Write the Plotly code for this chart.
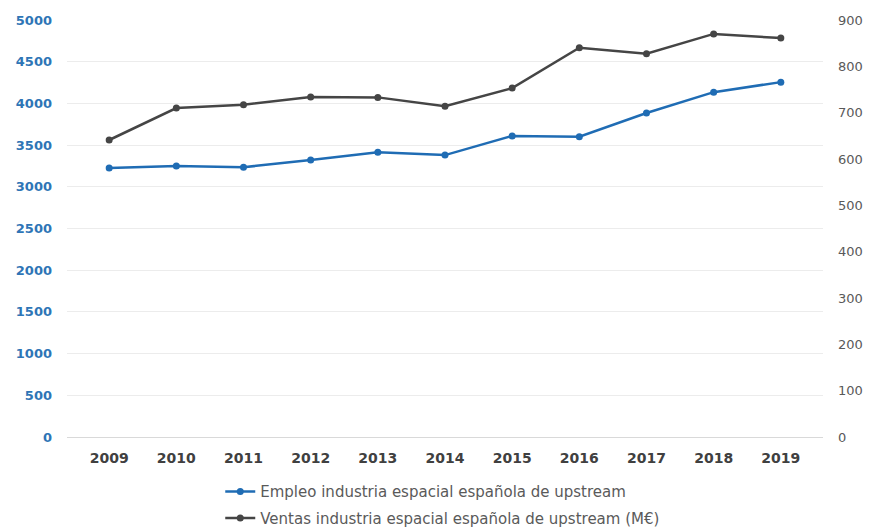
import plotly.graph_objects as go

years = ["2009", "2010", "2011", "2012", "2013", "2014", "2015", "2016", "2017", "2018", "2019"]
empleo = [3225, 3250, 3235, 3320, 3415, 3380, 3610, 3600, 3885, 4135, 4255]
ventas = [641, 710, 717, 734, 733, 714, 753, 840, 827, 870, 861]

left_ticks = list(range(0, 5001, 500))
right_ticks = list(range(0, 901, 100))

BLUE = "#1f6cb4"
DARK = "#454545"
FONT = "DejaVu Sans, Arial, sans-serif"

fig = go.Figure()
fig.add_trace(go.Scatter(
    x=years, y=empleo, mode="lines+markers",
    name="Empleo industria espacial española de upstream",
    line=dict(color=BLUE, width=2.5), marker=dict(size=7, color=BLUE),
    legendgroup="a", yaxis="y",
))
fig.add_trace(go.Scatter(
    x=years, y=ventas, mode="lines+markers",
    name="Ventas industria espacial española de upstream (M€)",
    line=dict(color=DARK, width=2.5), marker=dict(size=7, color=DARK),
    legendgroup="b", yaxis="y2",
))

fig.update_layout(
    width=881, height=528,
    margin=dict(l=67, r=58, t=20, b=91, autoexpand=False),
    paper_bgcolor="white", plot_bgcolor="white",
    font=dict(family=FONT),
    showlegend=True,
    legend=dict(
        orientation="v", xref="container", yref="container",
        x=0.25, xanchor="left", y=0.10, yanchor="top",
        font=dict(size=15, color="#5a5a5a", family=FONT), tracegroupgap=4,
        bgcolor="rgba(0,0,0,0)",
    ),
    xaxis=dict(
        type="category", showgrid=False, showline=True,
        linecolor="#d9d9d9", linewidth=1, ticks="", tickangle=0,
        tickfont=dict(size=14, color="#404040", family=FONT, weight="bold"),
        ticklabelstandoff=8,
    ),
    yaxis=dict(
        range=[0, 5000], tickvals=left_ticks, showgrid=True,
        gridcolor="#ececec", gridwidth=1, zeroline=False, ticks="",
        tickfont=dict(size=13, color="#2e75b6", family=FONT, weight="bold"),
        ticklabelstandoff=14,
    ),
    yaxis2=dict(
        range=[0, 900], tickvals=right_ticks, overlaying="y", side="right",
        showgrid=False, zeroline=False, ticks="",
        tickfont=dict(size=13, color="#595959", family=FONT),
        ticklabelstandoff=14,
    ),
)

fig.write_html("out.html")
